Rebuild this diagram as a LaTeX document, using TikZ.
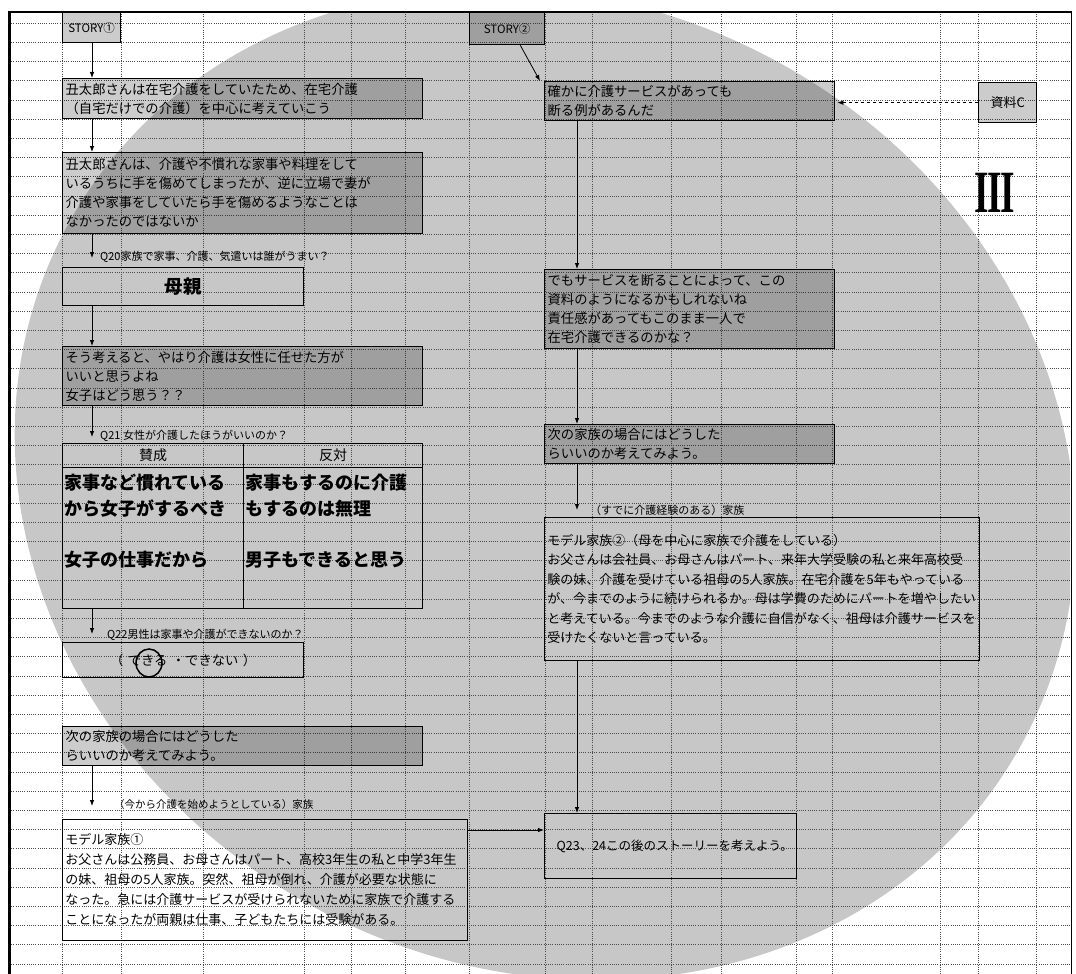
\documentclass[tikz,border=0pt]{standalone}
\usepackage{graphicx}
\usepackage{fontspec}
\setmainfont{Noto Sans CJK JP}
\newfontfamily\romfont{Liberation Serif}
\usetikzlibrary{arrows.meta}
\newcommand\fs[2]{\fontsize{#1}{#2}\selectfont}
% \Rbx[pad]{style}{name}{x1}{y1}{x2}{y2}{text}
\newcommand\Rbx[8][3]{\node[#2, minimum width=\fpeval{#6-#4}pt, minimum height=\fpeval{#7-#5}pt, text width=\fpeval{#6-#4-2*#1}pt] (#3) at (#4,#5) {#8};}
\tikzset{
  gridl/.style={line width=0.6pt, black!70, dash pattern=on 1pt off 1.2pt},
  basebox/.style={draw, line width=1.3pt, anchor=north west, inner xsep=0pt, inner ysep=0pt, align=left, font=\fs{13.3}{19}},
  shbox/.style={basebox, fill=black, fill opacity=0.2, text opacity=1},
  clbox/.style={basebox},
  thinbox/.style={basebox, line width=0.9pt},
  cbox/.style={align=center},
  small/.style={font=\fs{11.5}{12}},
  lab/.style={anchor=west, inner sep=0pt, font=\fs{11}{12}},
  big/.style={anchor=north west, inner sep=0pt, align=left, font=\fs{18}{25.5}\bfseries},
  arr/.style={-{Latex[length=6pt,width=4.5pt]}, line width=0.8pt},
}
\begin{document}
\begin{tikzpicture}[x=1pt,y=-1pt]
\useasboundingbox (0,0) rectangle (1076,974);
\fill[white] (0,0) rectangle (1076,974);
% big halftone disc
\begin{scope}
  \clip (9,12) rectangle (1070,974);
  \fill[black!22] (545,484) ellipse [x radius=543pt, y radius=482pt, rotate=-28];
\end{scope}
% spreadsheet grid
\foreach \x in {62,121,203,304,351,405,469,545,592,671,721,796,832,940,978,1036}
  \draw[gridl] (\x,12) -- (\x,974);
\foreach \k in {0,...,49}
  \draw[gridl] (9,{23+19.2*\k}) -- (1070,{23+19.2*\k});
% frame
\draw[line width=3pt] (9,11) -- (9,974);
\draw[line width=2.5pt] (8,12) -- (1072,12);
\draw[line width=1pt] (1071,12) -- (1071,974);

\coordinate (axL) at (92,0);
\coordinate (axR) at (577,0);
\coordinate (ay) at (0,830);

% ---- left story ----
\Rbx{shbox,cbox,small}{s1}{62}{12}{120}{42}{STORY①}
\Rbx{shbox}{b1}{62}{78}{422}{118}{丑太郎さんは在宅介護をしていたため、在宅介護\\（自宅だけでの介護）を中心に考えていこう}
\Rbx{shbox}{b2}{62}{152}{422}{233}{丑太郎さんは、介護や不慣れな家事や料理をして\\いるうちに手を傷めてしまったが、逆に立場で妻が\\介護や家事をしていたら手を傷めるようなことは\\なかったのではないか}
\node[lab] (l20) at (100,257) {Q20家族で家事、介護、気遣いは誰がうまい？};
\Rbx{clbox,cbox}{mo}{62}{267}{303}{305}{\fs{18.5}{20}\bfseries 母親}
\Rbx{shbox}{b3}{62}{346}{422}{405}{そう考えると、やはり介護は女性に任せた方が\\いいと思うよね\\女子はどう思う？？}
\node[lab] (l21) at (100,436) {Q21 女性が介護したほうがいいのか？};
\Rbx{clbox,cbox,font=\fs{14}{15}}{hL}{62}{443}{243}{467}{賛成}
\Rbx{clbox,cbox,font=\fs{14}{15}}{hR}{243}{443}{422}{467}{反対}
\Rbx{clbox}{cL}{62}{467}{243}{608}{}
\Rbx{clbox}{cR}{243}{467}{422}{608}{}
\node[big] (pL) at (64,474) {家事など慣れている\\から女子がするべき\\[25.5pt]女子の仕事だから};
\node[big] (pR) at (245,474) {家事もするのに介護\\もするのは無理\\[25.5pt]男子もできると思う};
\node[lab] (l22) at (107,635) {Q22男性は家事や介護ができないのか？};
\Rbx{clbox,cbox}{can}{62}{642}{303}{677}{（ できる ・できない ）};
\draw[line width=1.5pt] (149,663) ellipse [x radius=13pt, y radius=14pt];
\Rbx{shbox}{b4}{62}{726}{422}{765}{次の家族の場合にはどうした\\らいいのか考えてみよう。}
\node[lab, font=\fs{10.5}{12}] (l0) at (114,805) {（今から介護を始めようとしている）家族};
\Rbx{thinbox,font=\fs{13}{20}}{m1}{62}{819}{467}{940}{モデル家族①\\お父さんは公務員、お母さんはパート、高校3年生の私と中学3年生\\の妹、祖母の5人家族。突然、祖母が倒れ、介護が必要な状態に\\なった。急には介護サービスが受けられないために家族で介護する\\ことになったが両親は仕事、子どもたちには受験がある。}

% ---- right story ----
\Rbx{shbox,cbox,small}{s2}{469}{12}{544}{44}{STORY②}
\Rbx{shbox}{r1}{544}{81}{834}{120}{確かに介護サービスがあっても\\断る例があるんだ}
\Rbx{shbox,cbox,font=\fs{13}{14}}{src}{978}{82}{1036}{122}{資料C}
\node[inner sep=0pt] (three) at (995,193) {\romfont\bfseries\fs{60}{60}\scalebox{0.62}[1]{I\kern-0.045em I\kern-0.045em I}};
\Rbx{shbox}{r2}{544}{269}{834}{348}{でもサービスを断ることによって、この\\資料のようになるかもしれないね\\責任感があってもこのまま一人で\\在宅介護できるのかな？}
\Rbx{shbox}{r3}{544}{424}{834}{463}{次の家族の場合にはどうした\\らいいのか考えてみよう。}
\node[lab] (l2) at (590,510) {（すでに介護経験のある）家族};
\Rbx{thinbox,font=\fs{13}{19.5}}{m2}{544}{517}{979}{660}{モデル家族②（母を中心に家族で介護をしている）\\お父さんは会社員、お母さんはパート、来年大学受験の私と来年高校受\\験の妹、介護を受けている祖母の5人家族。在宅介護を5年もやっている\\が、今までのように続けられるか。母は学費のためにパートを増やしたい\\と考えている。今までのような介護に自信がなく、祖母は介護サービスを\\受けたくないと言っている。}
\Rbx[12]{clbox,font=\fs{12.5}{14}}{q23}{544}{813}{796}{878}{Q23、24この後のストーリーを考えよう。}

% ---- connectors ----
\draw[arr] (s1.south -| axL) -- (b1.north -| axL);
\draw[arr] (b1.south -| axL) -- (b2.north -| axL);
\draw[arr, shorten >=9pt] (b2.south -| axL) -- (mo.north -| axL);
\draw[arr] (mo.south -| axL) -- (b3.north -| axL);
\draw[arr, shorten >=6pt] (b3.south -| axL) -- (hL.north -| axL);
\draw[arr, shorten >=8pt] (cL.south -| axL) -- (can.north -| axL);
\draw[arr, shorten >=13pt] (b4.south -| axL) -- (m1.north -| axL);
\draw[arr] ([xshift=-25pt]s2.south east) -- ([xshift=-4pt]r1.north west);
\draw[arr] (r1.south -| axR) -- (r2.north -| axR);
\draw[arr] (r2.south -| axR) -- (r3.north -| axR);
\draw[arr, shorten >=7pt] (r3.south -| axR) -- (m2.north -| axR);
\draw[arr] (m2.south -| axR) -- (q23.north -| axR);
\draw[arr] (m1.east |- ay) -- (q23.west |- ay);
\draw[arr, dashed, shorten >=2pt] (src.west) -- (src.west -| r1.east);
\end{tikzpicture}
\end{document}
